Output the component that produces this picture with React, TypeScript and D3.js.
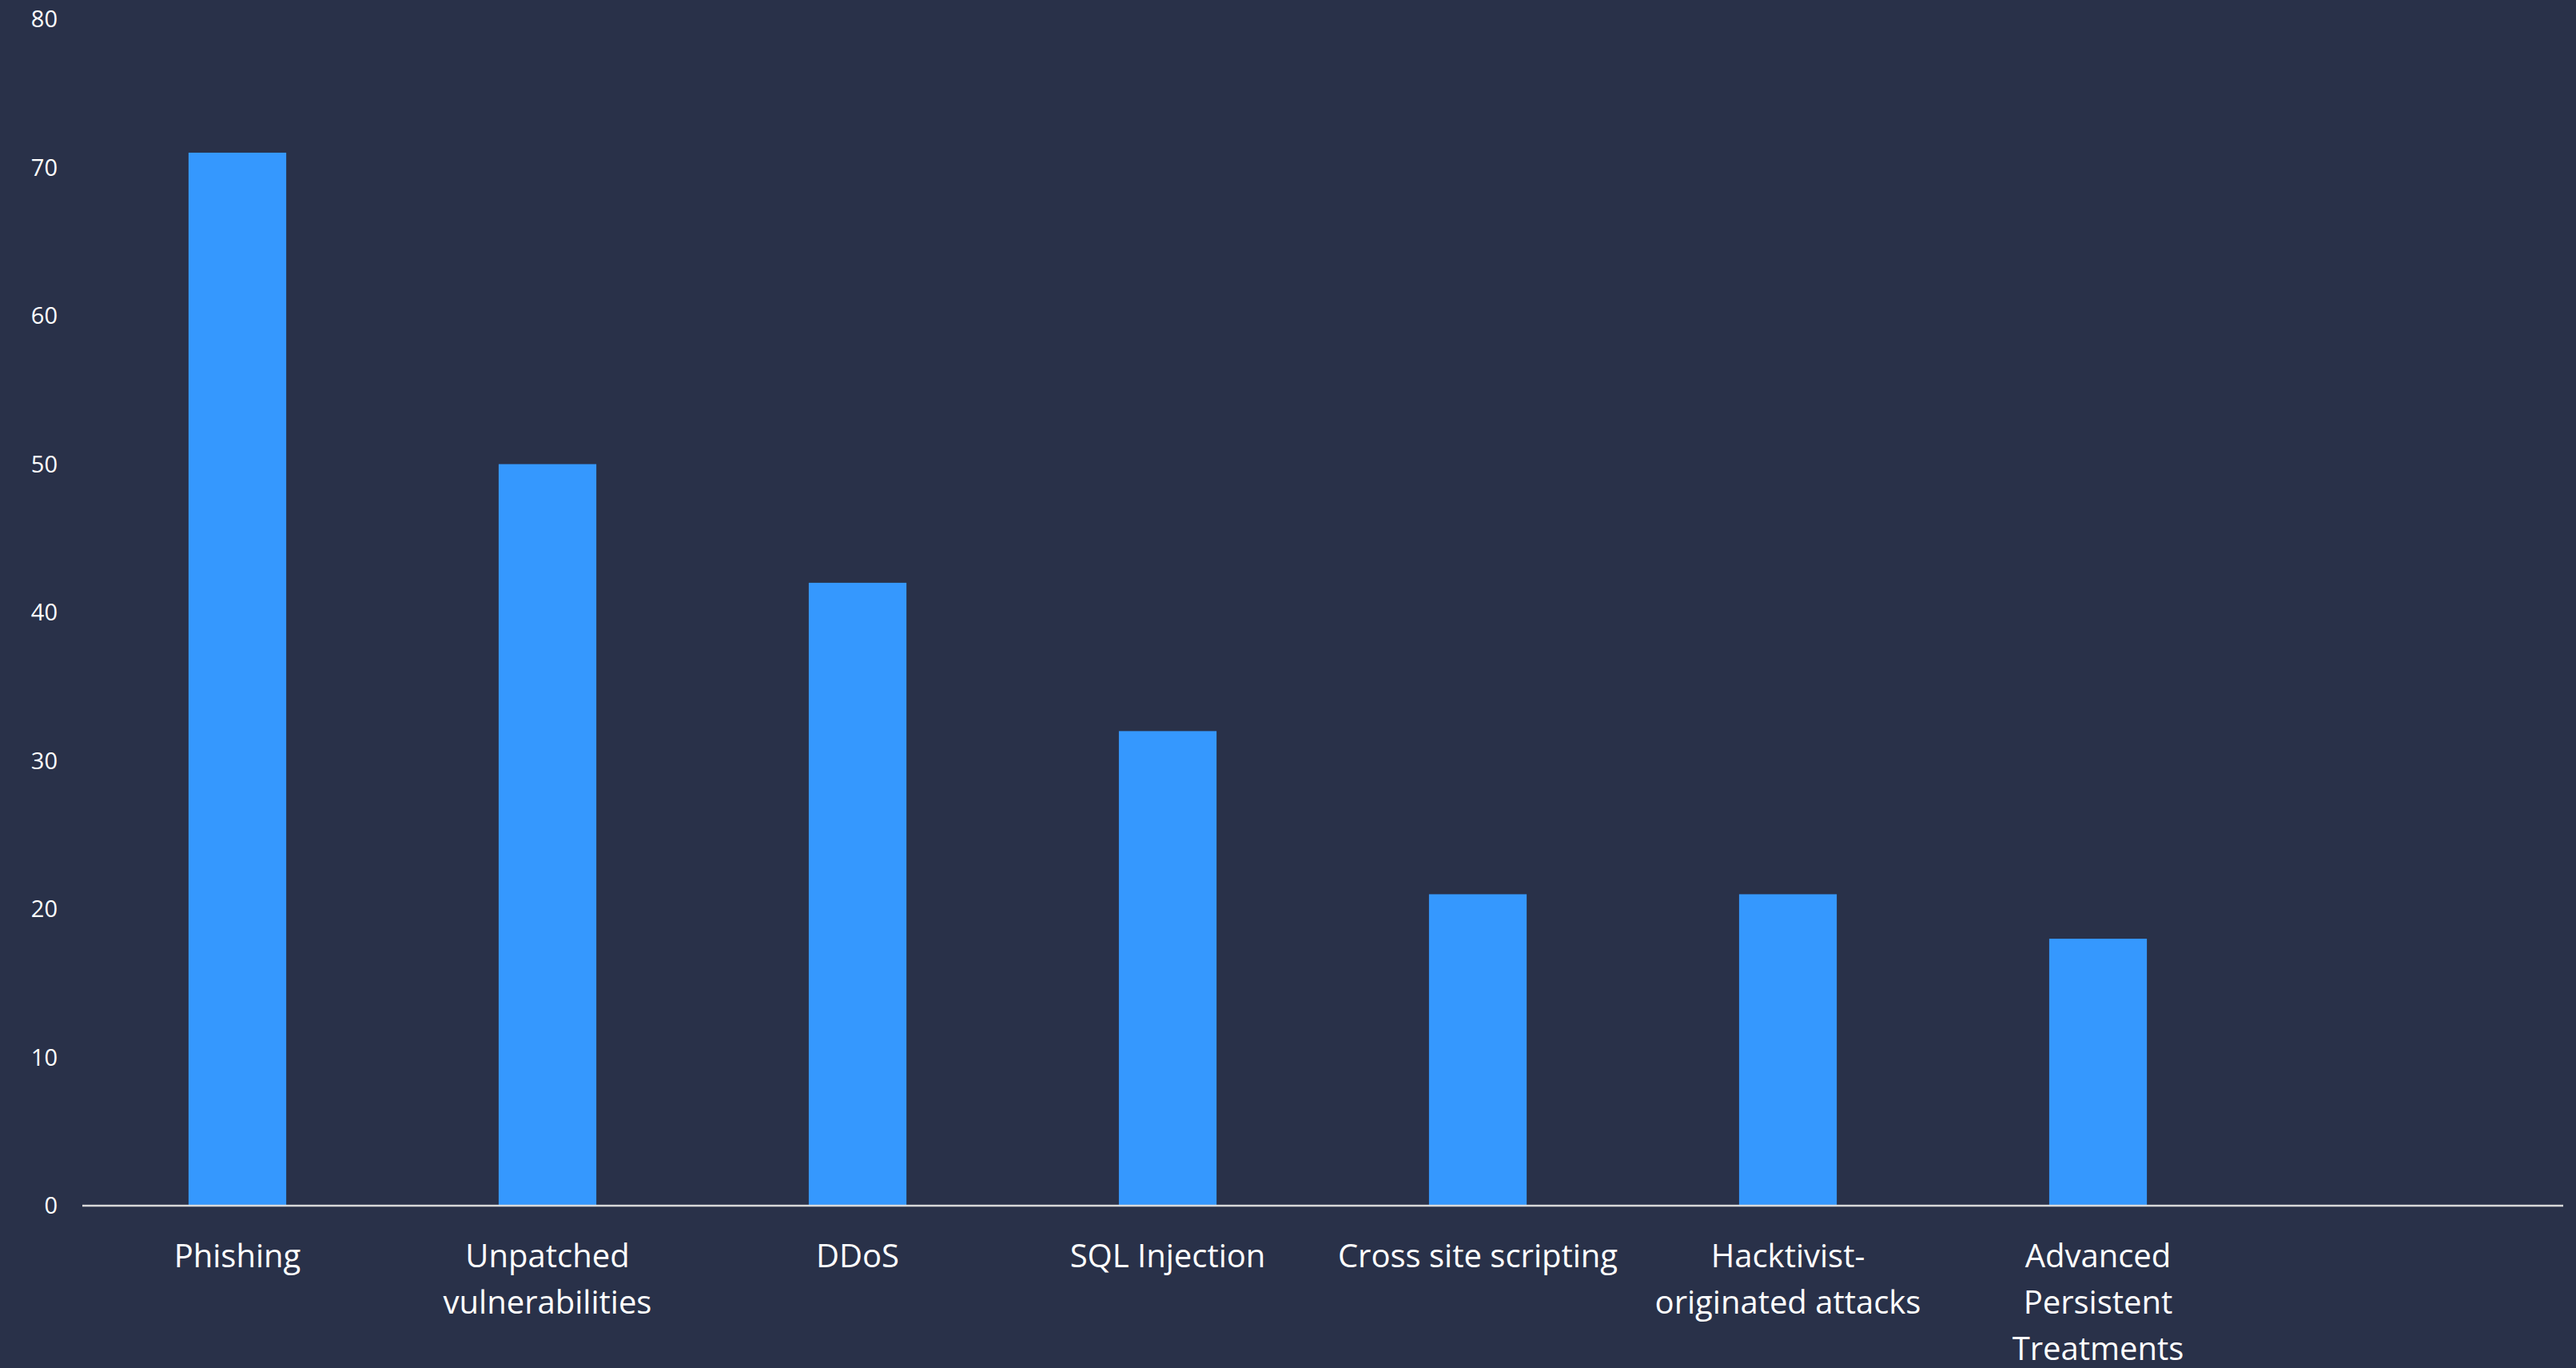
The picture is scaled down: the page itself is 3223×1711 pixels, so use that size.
import React from "react";
import * as d3 from "d3";

const categories = [
  "Phishing",
  "Unpatched vulnerabilities",
  "DDoS",
  "SQL Injection",
  "Cross site scripting",
  "Hacktivist-originated attacks",
  "Advanced Persistent Treatments",
];
const labelLines = [
  ["Phishing"],
  ["Unpatched", "vulnerabilities"],
  ["DDoS"],
  ["SQL Injection"],
  ["Cross site scripting"],
  ["Hacktivist-", "originated attacks"],
  ["Advanced", "Persistent", "Treatments"],
];
const values = [71, 50, 42, 32, 21, 21, 18];
const yTicks = [0, 10, 20, 30, 40, 50, 60, 70, 80];
const slotCount = 8; // category slots on the axis (last one empty)

const W = 3223;
const H = 1711;
const BG = "#293149";
const BAR = "#3598FE";

export default function App() {
  const x = d3
    .scaleBand<number>()
    .domain(d3.range(slotCount))
    .range([103, 3207])
    .paddingInner(0.685)
    .paddingOuter(0.3425);
  const y = d3.scaleLinear().domain([0, 80]).range([1508, 24]);

  return (
    <svg
      width={W}
      height={H}
      style={{ position: "absolute", left: 0, top: 0, display: "block" }}
    >
      <rect x={0} y={0} width={W} height={H} fill={BG} />
      {yTicks.map((t) => (
        <text
          key={t}
          x={72}
          y={y(t)}
          dy="0.35em"
          textAnchor="end"
          fill="#FFFFFF"
          fontFamily="'Open Sans', sans-serif"
          fontSize={29}
        >
          {t}
        </text>
      ))}
      {values.map((v, i) => (
        <rect
          key={categories[i]}
          x={x(i)}
          y={y(v)}
          width={x.bandwidth()}
          height={y(0) - y(v)}
          fill={BAR}
        />
      ))}
      <line
        x1={103}
        x2={3207}
        y1={y(0)}
        y2={y(0)}
        stroke="#D9D9D9"
        strokeWidth={2.5}
      />
      {labelLines.map((lines, i) => (
        <text
          key={categories[i]}
          x={(x(i) as number) + x.bandwidth() / 2}
          y={1585}
          textAnchor="middle"
          fill="#FFFFFF"
          fontFamily="'Open Sans', sans-serif"
          fontSize={40}
        >
          {lines.map((l, j) => (
            <tspan key={j} x={(x(i) as number) + x.bandwidth() / 2} dy={j === 0 ? 0 : 58}>
              {l}
            </tspan>
          ))}
        </text>
      ))}
    </svg>
  );
}
